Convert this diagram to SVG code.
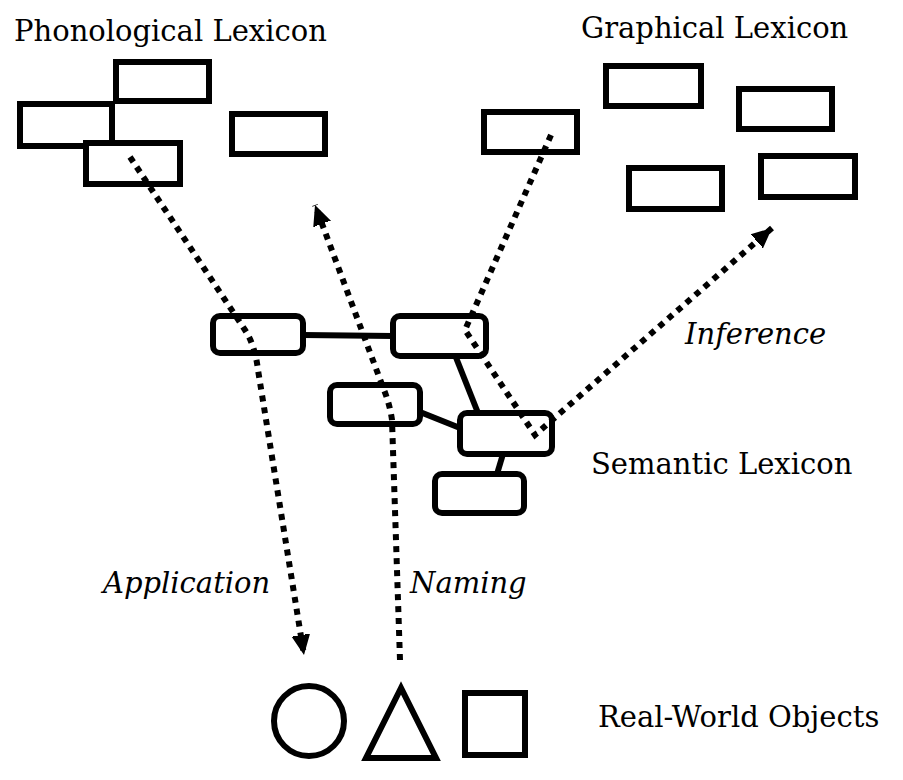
<svg xmlns="http://www.w3.org/2000/svg" width="903" height="780" viewBox="0 0 903 780">
<style>
.t{font-family:"DejaVu Serif",serif;font-size:29px;fill:#000}
.i{font-style:italic}
.r{fill:#fff;stroke:#000;stroke-width:6}
.e{fill:none;stroke:#000;stroke-width:6}
.d{fill:none;stroke:#000;stroke-width:6;stroke-dasharray:6 6}
</style>
<defs>
<marker id="a" markerUnits="userSpaceOnUse" markerWidth="40" markerHeight="40" viewBox="-20 -20 40 40" refX="0" refY="0" orient="auto">
<path d="M0,0 L-28,-13 L-20,0 L-28,13 Z" fill="#000"/>
</marker>
</defs>
<rect width="903" height="780" fill="#fff"/>
<g id="labels">
<text class="t" x="14" y="41">Phonological Lexicon</text>
<text class="t" x="581" y="38">Graphical Lexicon</text>
<text class="t i" x="685" y="344">Inference</text>
<text class="t" x="591" y="474">Semantic Lexicon</text>
<text class="t i" x="103" y="593">Application</text>
<text class="t i" x="410" y="593">Naming</text>
<text class="t" x="598" y="727">Real-World Objects</text>
</g>
<g id="phonological">
<rect class="r" x="116" y="62" width="93" height="39"/>
<rect class="r" x="20" y="104" width="92" height="42"/>
<rect class="r" x="86" y="143" width="94" height="41"/>
<rect class="r" x="232" y="114" width="93" height="40"/>
</g>
<g id="graphical">
<rect class="r" x="484" y="112" width="93" height="40"/>
<rect class="r" x="606" y="66" width="95" height="40"/>
<rect class="r" x="739" y="89" width="93" height="40"/>
<rect class="r" x="629" y="168" width="93" height="41"/>
<rect class="r" x="761" y="156" width="94" height="41"/>
</g>
<g id="semantic-links">
<line class="e" x1="303" y1="335" x2="393" y2="336"/>
<line class="e" x1="455" y1="355" x2="478" y2="413"/>
<line class="e" x1="420" y1="412" x2="460" y2="428"/>
<line class="e" x1="503" y1="454" x2="497" y2="474"/>
</g>
<g id="semantic">
<rect class="r" x="213" y="316" width="90" height="37" rx="7"/>
<rect class="r" x="393" y="316" width="93" height="40" rx="7"/>
<rect class="r" x="330" y="385" width="90" height="39" rx="7"/>
<rect class="r" x="460" y="413" width="92" height="41" rx="7"/>
<rect class="r" x="435" y="474" width="89" height="39" rx="7"/>
</g>
<g id="connectors">
<path class="d" d="M130,157 L245,330 Q255,345 258,370 L304,655" marker-end="url(#a)"/>
<path class="d" d="M400,660 L392,420 Q390,405 384,390 L315,205" marker-end="url(#a)"/>
<path class="d" d="M551,135 L465,330 L535,435 L772,228" marker-end="url(#a)"/>
</g>
<g id="objects">
<circle class="e" cx="309" cy="721" r="35"/>
<path class="e" d="M401,688 L366,758 L436,758 Z"/>
<rect class="e" x="465" y="693" width="60" height="62"/>
</g>
</svg>
